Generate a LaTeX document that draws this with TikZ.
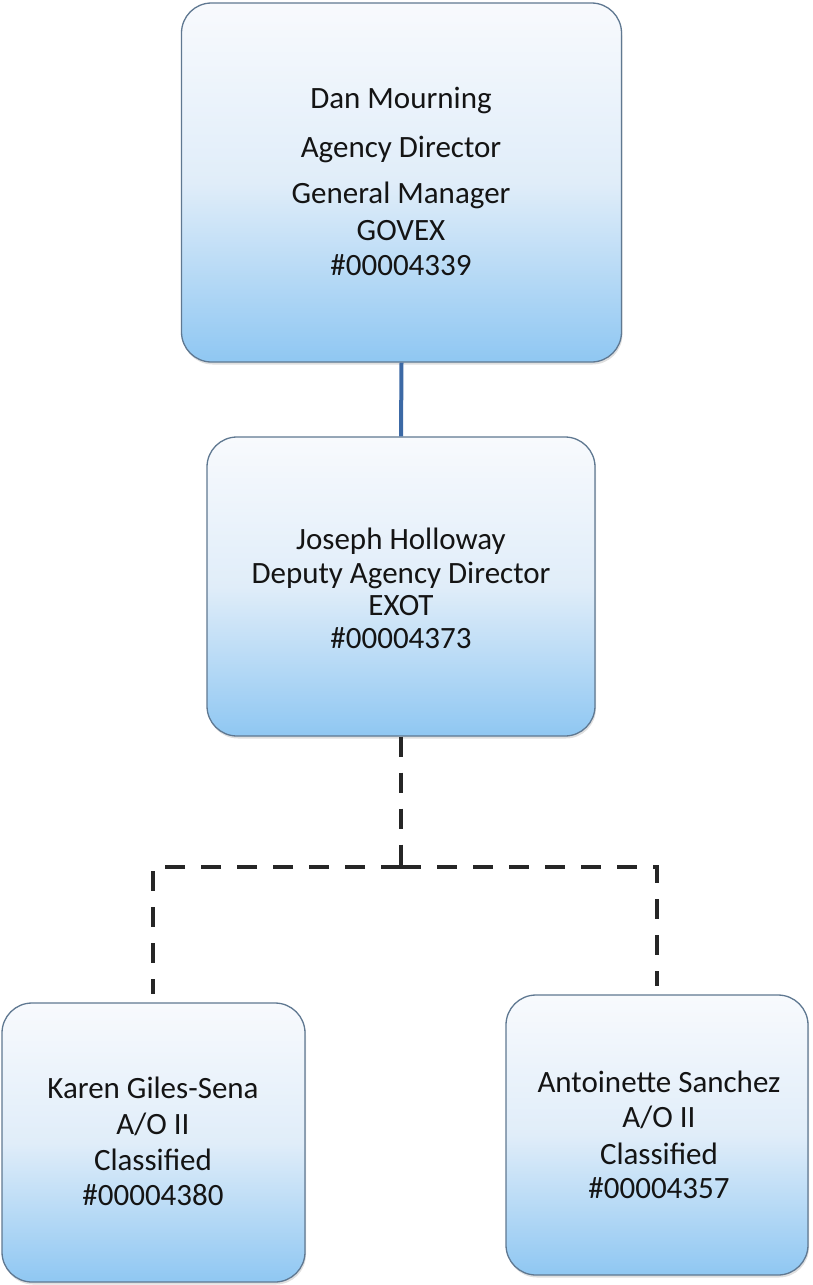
\documentclass[tikz,border=0pt]{standalone}
\usepackage{fontspec}
\setmainfont{Carlito}
\usetikzlibrary{shadows}
\definecolor{boxtop}{RGB}{248,250,253}
\definecolor{boxmid}{RGB}{224,237,249}
\definecolor{boxbot}{RGB}{143,199,242}
\definecolor{boxline}{RGB}{95,120,145}
\definecolor{solidline}{RGB}{60,105,165}
\definecolor{ink}{RGB}{20,20,20}
\tikzset{
  orgbox/.style={draw=boxline, line width=1.3pt, rounded corners=30pt,
    top color=boxtop, bottom color=boxbot, middle color=boxmid, inner sep=0pt,
    drop shadow={shadow xshift=1pt, shadow yshift=-2.5pt, opacity=0.25}},
  txt/.style={anchor=base, inner sep=0pt, text=ink,
    font=\fontsize{31}{35}\selectfont},
  solidconn/.style={draw=solidline, line width=4pt},
  dashconn/.style={draw=black!85, line width=4pt, dash pattern=on 20pt off 16pt}
}
\begin{document}
\begin{tikzpicture}[x=1pt,y=-1pt]
\useasboundingbox (0,0) rectangle (813,1285);
% boxes
\node[orgbox, minimum width=440, minimum height=359] (gm) at (401.5,182.5) {};
\node[orgbox, minimum width=388, minimum height=299] (dep) at (401,586.5) {};
\node[orgbox, minimum width=303, minimum height=279] (kg) at (153.5,1142.5) {};
\node[orgbox, minimum width=302, minimum height=280] (as) at (657,1135) {};
% connectors
\draw[solidconn] (gm.south) -- (dep.north);
\coordinate (jn) at (401,867);
\coordinate (jl) at (153,867);
\coordinate (jr) at (657,867);
\coordinate (el) at (153,994);
\coordinate (er) at (657,986);
\draw[dashconn] (dep.south) -- (jn);
\draw[dashconn] (jn) -- (jl) -- (el);
\draw[dashconn] (jn) -- (jr) -- (er);
% texts
\node[txt] (gm1) at (401,108) {Dan Mourning};
\node[txt] (gm2) at (401,157) {Agency Director};
\node[txt] (gm3) at (401,203) {General Manager};
\node[txt] (gm4) at (401,240) {GOVEX};
\node[txt] (gm5) at (401,275) {\#00004339};
\node[txt] (dep1) at (401,549) {Joseph Holloway};
\node[txt] (dep2) at (401,583) {Deputy Agency Director};
\node[txt] (dep3) at (401,615) {EXOT};
\node[txt] (dep4) at (401,648) {\#00004373};
\node[txt] (kg1) at (153,1098) {Karen Giles-Sena};
\node[txt] (kg2) at (153,1134) {A/O II};
\node[txt] (kg3) at (153,1170) {Classified};
\node[txt] (kg4) at (153,1205) {\#00004380};
\node[txt] (as1) at (659,1092) {Antoinette Sanchez};
\node[txt] (as2) at (659,1127) {A/O II};
\node[txt] (as3) at (659,1164) {Classified};
\node[txt] (as4) at (659,1198) {\#00004357};
\end{tikzpicture}
\end{document}
